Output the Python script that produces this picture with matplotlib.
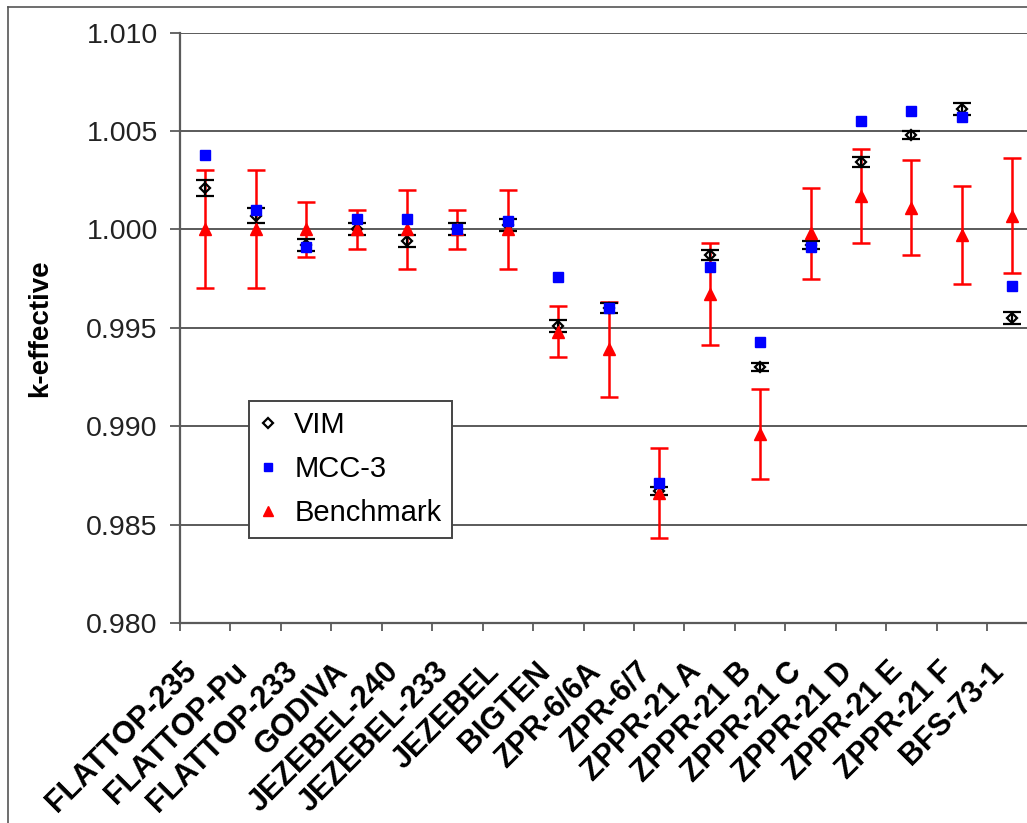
import numpy as np
import matplotlib.pyplot as plt
import matplotlib.transforms as mtransforms
from matplotlib.lines import Line2D

plt.rcParams["font.family"] = ["Liberation Sans", "DejaVu Sans"]

# Data
names = ["FLATTOP-235", "FLATTOP-Pu", "FLATTOP-233", "GODIVA", "JEZEBEL-240",
         "JEZEBEL-233", "JEZEBEL", "BIGTEN", "ZPR-6/6A", "ZPR-6/7", "ZPPR-21 A",
         "ZPPR-21 B", "ZPPR-21 C", "ZPPR-21 D", "ZPPR-21 E", "ZPPR-21 F", "BFS-73-1"]
vim = [1.0021, 1.0007, 0.9992, 1.0000, 0.9994, 1.0000, 1.0002, 0.9951, 0.9960,
       0.9867, 0.9987, 0.9930, 0.9992, 1.0034, 1.0048, 1.0061, 0.9955]
vim_err = [0.0004, 0.0004, 0.0003, 0.0003, 0.0003, 0.0003, 0.0003, 0.0003, 0.00025,
           0.0002, 0.00025, 0.0002, 0.0002, 0.00025, 0.0002, 0.0003, 0.0003]
mcc3 = [1.0038, 1.0010, 0.9991, 1.0005, 1.0005, 1.0000, 1.0004, 0.9976, 0.9960,
        0.9871, 0.9981, 0.9943, 0.9991, 1.0055, 1.0060, 1.0057, 0.9971]
bench = [1.0000, 1.0000, 1.0000, 1.0000, 1.0000, 1.0000, 1.0000, 0.9948, 0.9939,
         0.9866, 0.9967, 0.9896, 0.9998, 1.0017, 1.0011, 0.9997, 1.0007]
bench_err = [0.0030, 0.0030, 0.0014, 0.0010, 0.0020, 0.0010, 0.0020, 0.0013, 0.0024,
             0.0023, 0.0026, 0.0023, 0.0023, 0.0024, 0.0024, 0.0025, 0.0029]
yticks = [0.980, 0.985, 0.990, 0.995, 1.000, 1.005, 1.010]

W, H = 1027, 823
fig = plt.figure(figsize=(W / 100, H / 100), dpi=100)

# frame of the original screenshot
fig.add_artist(Line2D([8 / W, 1], [1 - 7 / H] * 2, color="#555555", lw=1.2))
fig.add_artist(Line2D([8 / W] * 2, [0, 1 - 7 / H], color="#555555", lw=1.2))

# axes run past the right edge, as in the reference
left, right, top, bottom = 180, 1037.5, 32.5, 623
ax = fig.add_axes([left / W, 1 - bottom / H, (right - left) / W, (bottom - top) / H])

x = np.arange(len(names))
grid_c = "#5a5a5a"

for yv in yticks[1:]:
    ax.axhline(yv, color=grid_c, lw=1.4, zorder=1)

# Benchmark error bars (below VIM)
ax.errorbar(x, bench, yerr=bench_err, fmt="none", ecolor="red",
            elinewidth=1.8, capsize=6.5, capthick=1.8, zorder=2)
# VIM
ax.errorbar(x, vim, yerr=vim_err, fmt="D", ms=5, mfc="none", mec="black",
            mew=1.6, ecolor="black", elinewidth=1.6, capsize=6.5, capthick=1.8,
            zorder=3)
# Benchmark markers
ax.plot(x, bench, "^", color="red", ms=9, zorder=4)
# MCC-3
ax.plot(x, mcc3, "s", color="blue", ms=6.5, zorder=5)

ax.set_xlim(-0.5, len(names) - 0.5)
ax.set_ylim(0.980, 1.010)

ax.set_yticks(yticks)
ax.set_yticklabels(["%.3f" % v for v in yticks], fontsize=20.5, color="#222222")
ax.tick_params(axis="y", direction="out", length=7, width=1.3, color=grid_c, pad=9)

ax.set_xticks(np.arange(-0.5, len(names)))
ax.set_xticklabels([])
ax.tick_params(axis="x", which="major", direction="out", length=6, width=1.3,
               color=grid_c)
ax.set_xticks(x, minor=True)
ax.set_xticklabels(names, minor=True, rotation=45, ha="right",
                   rotation_mode="anchor", fontsize=22, fontweight="bold")
ax.tick_params(axis="x", which="minor", length=0, pad=24)
shift = mtransforms.ScaledTranslation(-17 / 72, 0, fig.dpi_scale_trans)
for lab in ax.xaxis.get_minorticklabels():
    lab.set_transform(lab.get_transform() + shift)

ax.set_ylabel("k-effective", fontsize=20, fontweight="bold", labelpad=24)

for s in ["top", "right"]:
    ax.spines[s].set_visible(False)
for s in ["left", "bottom"]:
    ax.spines[s].set_color(grid_c)
    ax.spines[s].set_linewidth(1.6)

handles = [
    Line2D([], [], ls="none", marker="D", ms=5, mfc="none", mec="black", mew=1.6),
    Line2D([], [], ls="none", marker="s", ms=6, color="blue"),
    Line2D([], [], ls="none", marker="^", ms=7.5, color="red"),
]
leg = ax.legend(handles, ["VIM", "MCC-3", "Benchmark"], fontsize=21,
                loc="upper left", bbox_to_anchor=((249 - left) / (right - left),
                                                  1 - (401 - top) / (bottom - top)),
                fancybox=False, framealpha=1, edgecolor="#444444",
                handlelength=0.6, handletextpad=0.6, labelspacing=0.55,
                borderpad=0.35, borderaxespad=0)
leg.get_frame().set_linewidth(1.4)

fig.savefig("out.png", dpi=100)
